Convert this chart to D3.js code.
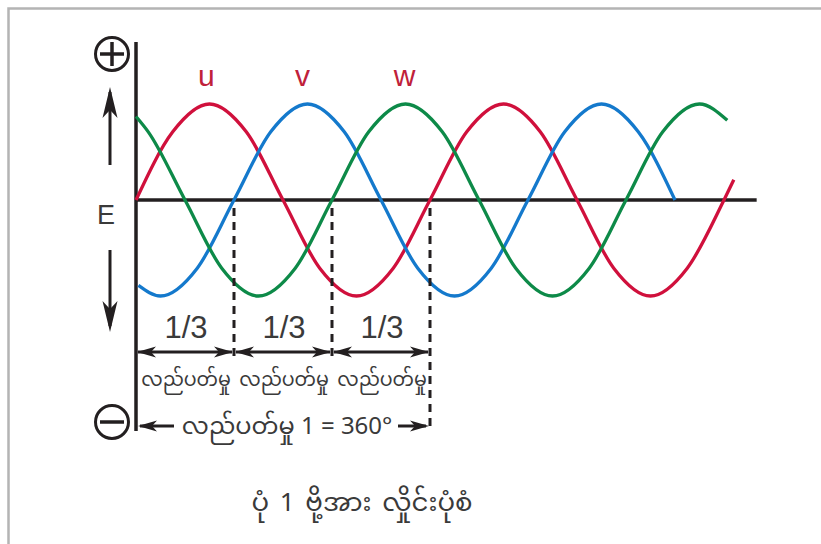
<!DOCTYPE html>
<html>
<head>
<meta charset="utf-8">
<script src="https://cdn.jsdelivr.net/npm/d3@7"></script>
<style>
  body { margin: 0; background: #fff; }
  svg { display: block; }
</style>
</head>
<body>
<div id="chart"></div>
<script>

// wave key points, degrees of rotation and value (relative to peak)
var u_deg = [0, 45, 90, 135, 180, 225, 270, 315, 360, 405, 450, 495, 540, 585, 630, 675, 720, 732];
var u_val = [0, .71, 1, .71, 0, -.71, -1, -.71, 0, .71, 1, .71, 0, -.71, -1, -.71, 0, .21];
var v_deg = [3, 30, 75, 120, 165, 210, 255, 300, 345, 390, 435, 480, 525, 570, 615, 660];
var v_val = [-.89, -1, -.71, 0, .71, 1, .71, 0, -.71, -1, -.71, 0, .71, 1, .71, 0];
var w_deg = [0, 15, 60, 105, 150, 195, 240, 285, 330, 375, 420, 465, 510, 555, 600, 645, 690, 724];
var w_val = [.87, .71, 0, -.71, -1, -.71, 0, .71, 1, .71, 0, -.71, -1, -.71, 0, .71, 1, .83];

var phase_names  = ["u", "v", "w"];
var label_deg    = [86, 204, 329];
var third_marks  = [0, 120, 240, 360];
var third_label  = "1/3";
var turn_label   = "လည်ပတ်မှု";
var full_label   = "လည်ပတ်မှု 1 = 360°";
var caption      = "ပုံ 1 ဗို့အား လှိုင်းပုံစံ";
var axis_end_deg = 760;

// --------------------------------------------------------

var chart_width  = 821;
var chart_height = 544;
var red   = "#d0103c";
var blue  = "#1479cc";
var green = "#0d8a48";
var ink   = "#231f20";
var latin = "'Liberation Sans', Arial, sans-serif";
var mya   = "'Noto Sans Myanmar', 'Padauk', 'Myanmar Text', sans-serif";

var svg = d3.select("#chart")
	.append("svg")
	.attr("width", chart_width)
	.attr("height", chart_height);

// frame
svg.append("rect")
	.attr("x", 8.5).attr("y", 8.5)
	.attr("width", 840).attr("height", 560)
	.attr("fill", "#fff")
	.attr("stroke", "#b4b4b4")
	.attr("stroke-width", 2.5);

// --------------------------------------------------------
// scales

var x_scale = d3.scaleLinear()
	.domain([0, 360])
	.range([136, 430]);

var y_scale = d3.scaleLinear()
	.domain([-1, 1])
	.range([296, 104]);

var y0 = y_scale(0);

// --------------------------------------------------------
// waves

var line = d3.line()
	.x((d) => x_scale(d[0]))
	.y((d) => y_scale(d[1]))
	.curve(d3.curveMonotoneX);

var waves = [
	{ pts: d3.zip(u_deg, u_val), color: red },
	{ pts: d3.zip(v_deg, v_val), color: blue },
	{ pts: d3.zip(w_deg, w_val), color: green }
];

// axes
svg.append("line")
	.attr("x1", x_scale(0)).attr("x2", x_scale(axis_end_deg))
	.attr("y1", y0).attr("y2", y0)
	.attr("stroke", ink).attr("stroke-width", 3.5);

svg.append("line")
	.attr("x1", x_scale(0)).attr("x2", x_scale(0))
	.attr("y1", 42).attr("y2", 431)
	.attr("stroke", ink).attr("stroke-width", 3.5);

svg.append("g")
	.selectAll("path")
	.data(waves)
	.enter()
	.append("path")
	.attr("d", (d) => line(d.pts))
	.attr("fill", "none")
	.attr("stroke", (d) => d.color)
	.attr("stroke-width", 3.3)
	.attr("stroke-linecap", "butt");

// phase labels
svg.append("g")
	.selectAll("text")
	.data(phase_names)
	.enter()
	.append("text")
	.text((d) => d)
	.attr("x", (d, i) => x_scale(label_deg[i]))
	.attr("y", 86)
	.attr("text-anchor", "middle")
	.attr("font-family", latin)
	.attr("font-size", 30)
	.attr("fill", "#c0213a");

// --------------------------------------------------------
// dashed markers at each third

svg.append("g")
	.selectAll("line")
	.data(third_marks.slice(1))
	.enter()
	.append("line")
	.attr("x1", (d) => x_scale(d)).attr("x2", (d) => x_scale(d))
	.attr("y1", y0 + 8)
	.attr("y2", (d, i) => i < 2 ? 358 : 432)
	.attr("stroke", ink)
	.attr("stroke-width", 3)
	.attr("stroke-dasharray", "8,6");

// arrowhead path, tip at (x, y) pointing dir (+1 right, -1 left)
function head(x, y, dir) {
	var L = 19, W = 5.5, N = 14;
	return "M" + x + "," + y +
		"L" + (x - dir * L) + "," + (y - W) +
		"L" + (x - dir * N) + "," + y +
		"L" + (x - dir * L) + "," + (y + W) + "Z";
}

var segs = d3.pairs(third_marks);
var arrow_y = 352;

var seg_g = svg.append("g");
seg_g.selectAll("line")
	.data(segs)
	.enter()
	.append("line")
	.attr("x1", (d) => x_scale(d[0]) + 2).attr("x2", (d) => x_scale(d[1]) - 2)
	.attr("y1", arrow_y).attr("y2", arrow_y)
	.attr("stroke", ink).attr("stroke-width", 3);

seg_g.selectAll("path")
	.data(segs)
	.enter()
	.append("path")
	.attr("d", (d) => head(x_scale(d[0]) + 1, arrow_y, -1) + head(x_scale(d[1]) - 1, arrow_y, 1))
	.attr("fill", ink);

seg_g.selectAll("text.third")
	.data(segs)
	.enter()
	.append("text")
	.attr("class", "third")
	.text(third_label)
	.attr("x", (d) => x_scale((d[0] + d[1]) / 2) + 1)
	.attr("y", 338)
	.attr("text-anchor", "middle")
	.attr("font-family", latin)
	.attr("font-size", 31)
	.attr("fill", "#3a3a3a");

seg_g.selectAll("text.turn")
	.data(segs)
	.enter()
	.append("text")
	.attr("class", "turn")
	.text(turn_label)
	.attr("x", (d) => x_scale((d[0] + d[1]) / 2) + 1)
	.attr("y", 386)
	.attr("text-anchor", "middle")
	.attr("font-family", mya)
	.attr("font-size", 19)
	.attr("fill", "#3a3a3a");

// full turn arrow
var full_y = 426;
svg.append("path")
	.attr("d", head(x_scale(0) + 2, full_y, -1) + head(x_scale(360) - 1, full_y, 1))
	.attr("fill", ink);
svg.append("line")
	.attr("x1", x_scale(0) + 4).attr("x2", 174)
	.attr("y1", full_y).attr("y2", full_y)
	.attr("stroke", ink).attr("stroke-width", 3);
svg.append("line")
	.attr("x1", 398).attr("x2", x_scale(360) - 4)
	.attr("y1", full_y).attr("y2", full_y)
	.attr("stroke", ink).attr("stroke-width", 3);
svg.append("text")
	.text(full_label)
	.attr("x", 287)
	.attr("y", 434)
	.attr("text-anchor", "middle")
	.attr("font-family", mya)
	.attr("font-size", 24)
	.attr("fill", "#3a3a3a");

// --------------------------------------------------------
// E with plus / minus and arrows

svg.append("text")
	.text("E")
	.attr("x", 106).attr("y", 224)
	.attr("text-anchor", "middle")
	.attr("font-family", latin)
	.attr("font-size", 27)
	.attr("fill", "#3a3a3a");

var signs = [{ cy: 54, plus: true }, { cy: 422, plus: false }];
var sg = svg.append("g").attr("stroke", ink).attr("fill", "none");
signs.forEach((s) => {
	sg.append("circle").attr("cx", 112).attr("cy", s.cy).attr("r", 16.5).attr("stroke-width", 3);
	sg.append("line").attr("x1", 100).attr("x2", 124).attr("y1", s.cy).attr("y2", s.cy).attr("stroke-width", 3.5);
	if (s.plus) {
		sg.append("line").attr("x1", 112).attr("x2", 112).attr("y1", s.cy - 12).attr("y2", s.cy + 12).attr("stroke-width", 3.5);
	}
});

function vhead(x, y, dir) {
	var L = 31, W = 7.5, N = 23;
	return "M" + x + "," + y +
		"L" + (x - W) + "," + (y - dir * L) +
		"L" + x + "," + (y - dir * N) +
		"L" + (x + W) + "," + (y - dir * L) + "Z";
}
svg.append("line").attr("x1", 110).attr("x2", 110).attr("y1", 92).attr("y2", 165)
	.attr("stroke", ink).attr("stroke-width", 3);
svg.append("path").attr("d", vhead(110, 87, -1)).attr("fill", ink);
svg.append("line").attr("x1", 110).attr("x2", 110).attr("y1", 250).attr("y2", 326)
	.attr("stroke", ink).attr("stroke-width", 3);
svg.append("path").attr("d", vhead(110, 332, 1)).attr("fill", ink);

// --------------------------------------------------------
// caption

svg.append("text")
	.text(caption)
	.attr("x", 362)
	.attr("y", 511)
	.attr("text-anchor", "middle")
	.attr("font-family", mya)
	.attr("font-size", 26)
	.attr("fill", "#3a3a3a")
	.attr("word-spacing", 4);

</script>
</body>
</html>
